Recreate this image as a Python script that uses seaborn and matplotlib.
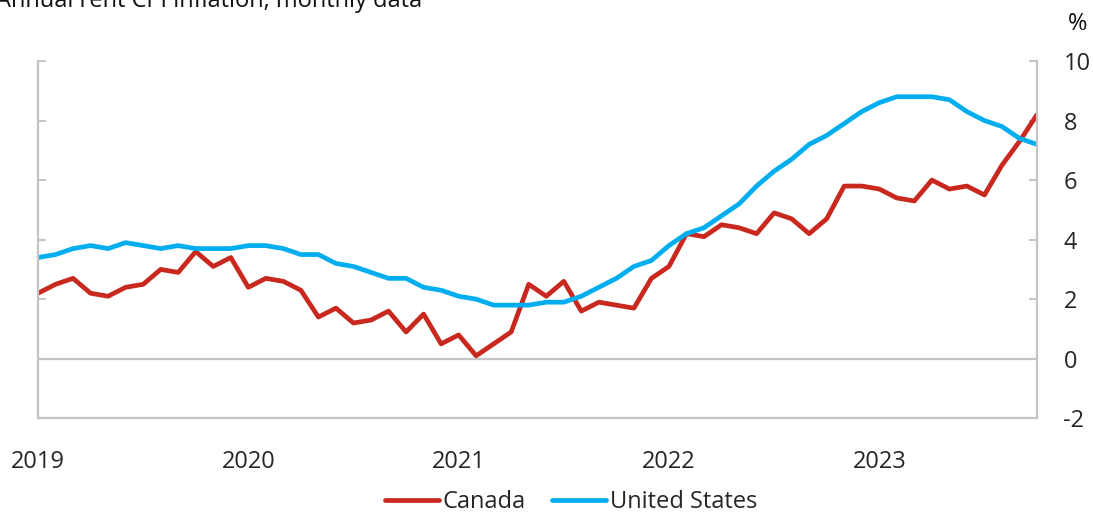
import pandas as pd
import matplotlib
matplotlib.use("Agg")
import matplotlib.pyplot as plt
import matplotlib.ticker as mticker
import seaborn as sns

# --- Data (annual rent CPI inflation, %, monthly Jan 2019 - Oct 2023) ---
canada = [2.2, 2.5, 2.7, 2.2, 2.1, 2.4, 2.5, 3.0, 2.9, 3.6, 3.1, 3.4,
          2.4, 2.7, 2.6, 2.3, 1.4, 1.7, 1.2, 1.3, 1.6, 0.9, 1.5, 0.5,
          0.8, 0.1, 0.5, 0.9, 2.5, 2.1, 2.6, 1.6, 1.9, 1.8, 1.7, 2.7,
          3.1, 4.2, 4.1, 4.5, 4.4, 4.2, 4.9, 4.7, 4.2, 4.7, 5.8, 5.8,
          5.7, 5.4, 5.3, 6.0, 5.7, 5.8, 5.5, 6.5, 7.3, 8.2]
united_states = [3.4, 3.5, 3.7, 3.8, 3.7, 3.9, 3.8, 3.7, 3.8, 3.7, 3.7, 3.7,
                 3.8, 3.8, 3.7, 3.5, 3.5, 3.2, 3.1, 2.9, 2.7, 2.7, 2.4, 2.3,
                 2.1, 2.0, 1.8, 1.8, 1.8, 1.9, 1.9, 2.1, 2.4, 2.7, 3.1, 3.3,
                 3.8, 4.2, 4.4, 4.8, 5.2, 5.8, 6.3, 6.7, 7.2, 7.5, 7.9, 8.3,
                 8.6, 8.8, 8.8, 8.8, 8.7, 8.3, 8.0, 7.8, 7.4, 7.2]
years = ["2019", "2020", "2021", "2022", "2023"]
y_ticks = [-2, 0, 2, 4, 6, 8, 10]

months = list(range(len(canada)))
df = pd.DataFrame({
    "month": months * 2,
    "value": canada + united_states,
    "country": ["Canada"] * len(canada) + ["United States"] * len(united_states),
})

RED = "#C8281E"
BLUE = "#00AEEF"
GREY = "#C4C4C4"
FS = 17

sns.set_style("white")
plt.rcParams["font.family"] = ["Open Sans", "DejaVu Sans"]
plt.rcParams["axes.unicode_minus"] = False

fig = plt.figure(figsize=(10.93, 5.13), dpi=100)
ax = fig.add_axes([38 / 1093, 94.7 / 513, 999 / 1093, 357.3 / 513])

sns.lineplot(data=df, x="month", y="value", hue="country",
             palette={"Canada": RED, "United States": BLUE},
             linewidth=3.4, ax=ax, legend=True)

ax.axhline(0, color=GREY, lw=1.6, zorder=0)

ax.set_xlim(0, len(canada) - 1)
ax.set_ylim(-2, 10)
ax.set_xlabel("")
ax.set_ylabel("")

# x axis: year labels, quarter ticks
ax.xaxis.set_major_locator(mticker.FixedLocator([12 * i for i in range(len(years))]))
ax.xaxis.set_major_formatter(mticker.FixedFormatter(years))
ax.xaxis.set_minor_locator(mticker.MultipleLocator(3))
ax.tick_params(axis="x", which="major", direction="in", length=7, width=1.4,
               color=GREY, labelsize=FS, pad=23)
ax.tick_params(axis="x", which="minor", direction="in", length=4.5, width=1.4,
               color=GREY)

# y axis: labels on right, inward ticks both sides
ax.set_yticks(y_ticks)
ax.tick_params(axis="y", which="major", direction="in", length=6, width=1.4,
               color=GREY, labelsize=FS, left=True, right=True,
               labelleft=False, labelright=True, pad=19)
for lab in ax.get_yticklabels():
    lab.set_horizontalalignment("left")

for side in ["left", "right", "bottom"]:
    ax.spines[side].set_visible(True)
    ax.spines[side].set_color(GREY)
    ax.spines[side].set_linewidth(1.6)
ax.spines["top"].set_visible(False)

# legend
handles, labels = ax.get_legend_handles_labels()
ax.get_legend().remove()
fig.legend(handles, labels, loc="center", bbox_to_anchor=(571 / 1093, 11 / 513),
           ncol=2, frameon=False, fontsize=FS, handlelength=2.3,
           handletextpad=0.15, columnspacing=1.1)

# texts
fig.text(-4 / 1093, 1 - 7 / 513, "Annual rent CPI inflation, monthly data",
         fontsize=FS, ha="left", va="baseline", color="#111111")
fig.text(1078 / 1093, 1 - 24 / 513, "%", fontsize=FS, ha="center",
         va="center", color="#111111")

fig.savefig("out.png", dpi=100)
